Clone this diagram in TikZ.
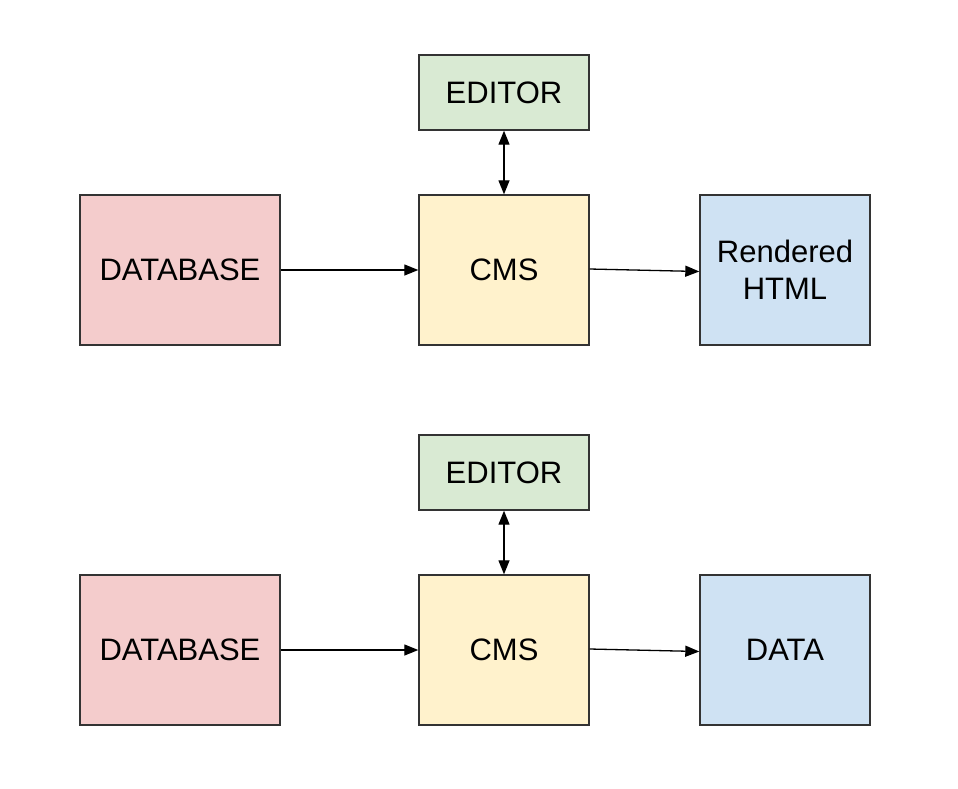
\documentclass[tikz,border=0pt]{standalone}
\usepackage{fontspec}
\setmainfont{Liberation Sans}
\usetikzlibrary{arrows.meta}
\definecolor{dbpink}{HTML}{F4CCCC}
\definecolor{cmsyellow}{HTML}{FFF2CC}
\definecolor{edgreen}{HTML}{D9EAD3}
\definecolor{outblue}{HTML}{CFE2F3}
\definecolor{bordergray}{HTML}{333333}
\tikzset{
  box/.style={draw=bordergray, line width=1.4pt, minimum width=170pt, minimum height=150pt,
    inner sep=0pt, align=center, font=\fontsize{31}{37}\selectfont, text=black},
  wide/.style={minimum width=200pt},
  short/.style={minimum height=75pt},
  conn/.style={line width=1.3pt, -{Triangle[length=14pt,width=11pt]}},
  dconn/.style={line width=1.3pt, {Triangle[length=14pt,width=11pt]}-{Triangle[length=14pt,width=11pt]}}
}
\begin{document}
\begin{tikzpicture}[x=1pt,y=-1pt]
\useasboundingbox (0,0) rectangle (958,788);
% top row
\node[box, short, fill=edgreen] (ed1) at (504,92.5) {EDITOR};
\node[box, wide, fill=dbpink] (db1) at (180,270) {DATABASE};
\node[box, fill=cmsyellow] (cms1) at (504,270) {CMS};
\node[box, fill=outblue] (html) at (785,270) {Rendered\\HTML};
\draw[conn] (db1) -- (cms1);
\draw[conn] ([yshift=1pt]cms1.east) -- ([yshift=-1.5pt]html.west);
\draw[dconn] (ed1) -- (cms1);
% bottom row
\node[box, short, fill=edgreen] (ed2) at (504,472.5) {EDITOR};
\node[box, wide, fill=dbpink] (db2) at (180,650) {DATABASE};
\node[box, fill=cmsyellow] (cms2) at (504,650) {CMS};
\node[box, fill=outblue] (data) at (785,650) {DATA};
\draw[conn] (db2) -- (cms2);
\draw[conn] ([yshift=1pt]cms2.east) -- ([yshift=-1.5pt]data.west);
\draw[dconn] (ed2) -- (cms2);
\end{tikzpicture}
\end{document}
